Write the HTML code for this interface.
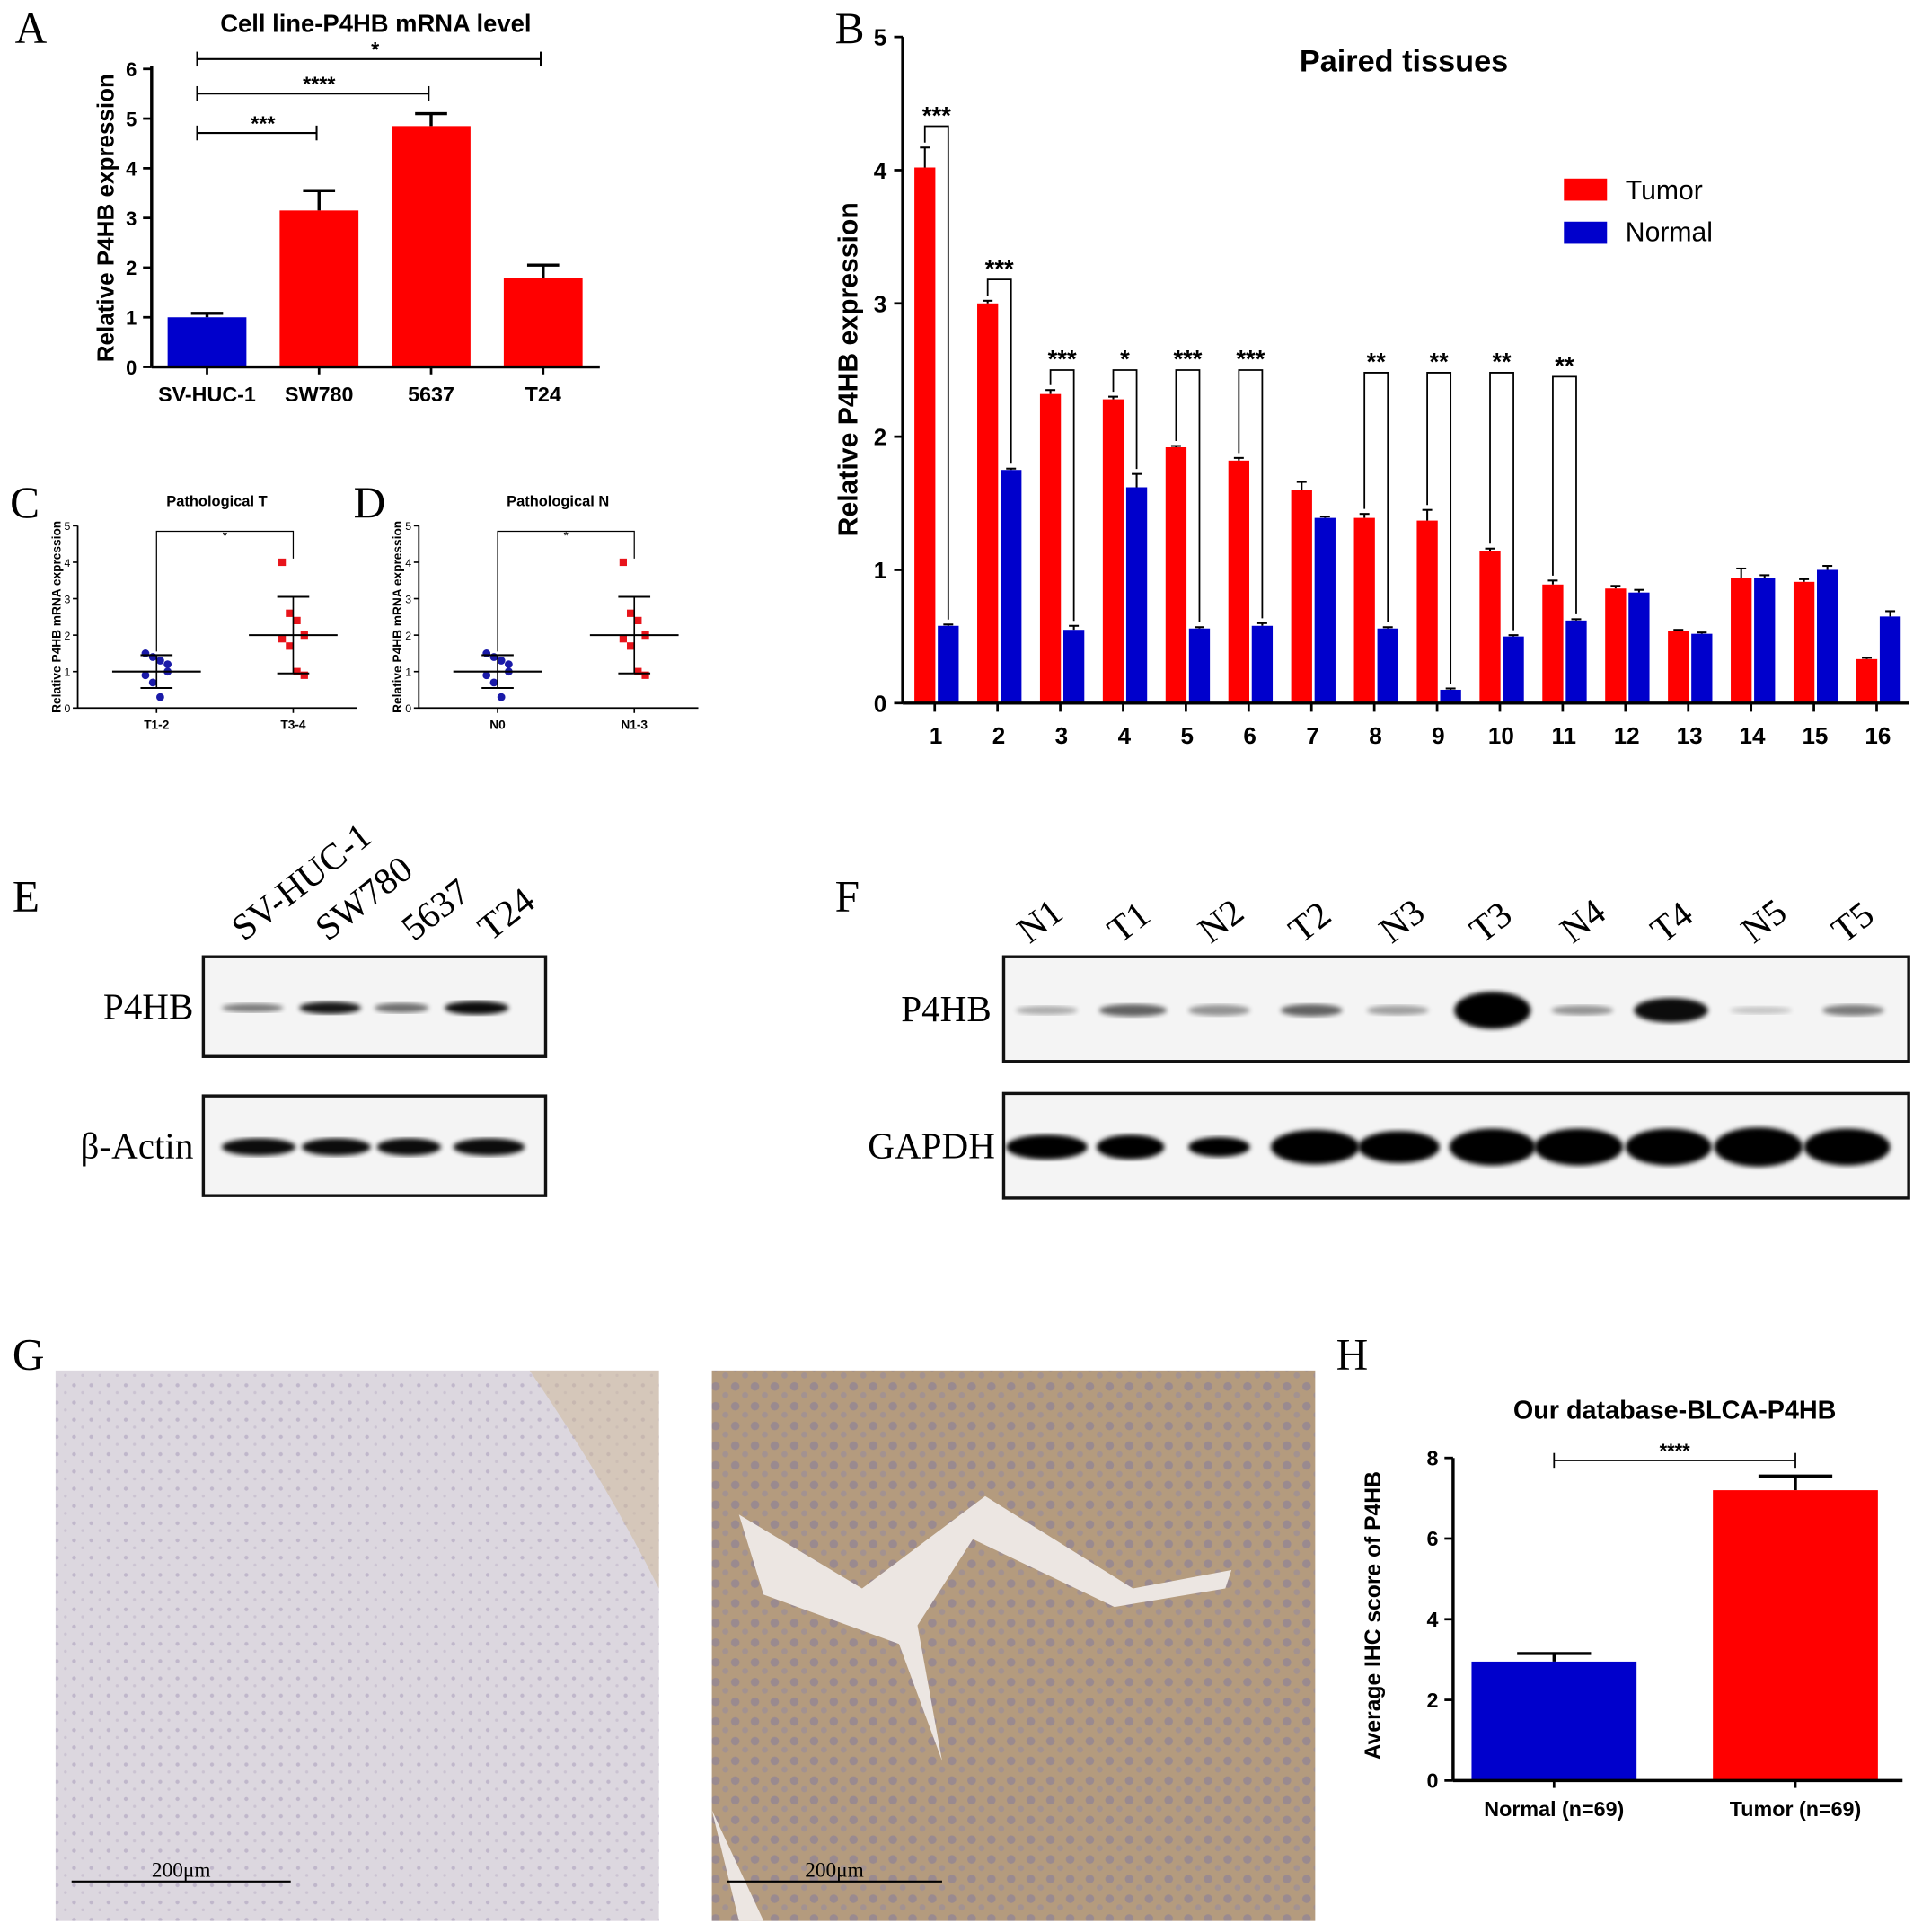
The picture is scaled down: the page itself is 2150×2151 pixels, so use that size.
<!DOCTYPE html>
<html><head><meta charset="utf-8">
<style>
html,body{margin:0;padding:0;background:#fff;}
svg{display:block;}
text{font-family:"Liberation Sans",sans-serif;}
.serif{font-family:"Liberation Serif",serif;}
</style></head>
<body>
<svg id="fig" width="2150" height="2151" viewBox="0 0 1568 1569" xmlns="http://www.w3.org/2000/svg">
<defs>
<pattern id="pl" width="14" height="14" patternUnits="userSpaceOnUse">
<rect width="14" height="14" fill="#dcd7df"/><circle cx="4" cy="5" r="1.6" fill="#c0b7cb"/><circle cx="11" cy="11" r="1.2" fill="#cbc3d2"/></pattern>
<pattern id="pr" width="16" height="16" patternUnits="userSpaceOnUse">
<rect width="16" height="16" fill="#b49b7e"/><circle cx="5" cy="6" r="3.5" fill="#9a8a8f"/><circle cx="13" cy="13" r="2.5" fill="#a39290"/></pattern>
<filter id="blur"><feGaussianBlur stdDeviation="2"/></filter>
</defs>
<g id="root"></g>
</svg>
<script>
// ---------- Panel A data ----------
const aCats = ["SV-HUC-1","SW780","5637","T24"];
const aVals = [1.0, 3.15, 4.85, 1.8];
const aErr = [0.08, 0.4, 0.25, 0.25];
const aTicks = [0,1,2,3,4,5,6];
// ---------- Panel B data ----------
const bCats = ["1","2","3","4","5","6","7","8","9","10","11","12","13","14","15","16"];
const bTumor = [4.02,3.0,2.32,2.28,1.92,1.82,1.6,1.39,1.37,1.14,0.89,0.86,0.54,0.94,0.91,0.33];
const bTumorErr = [0.15,0.02,0.03,0.02,0.01,0.02,0.06,0.03,0.08,0.02,0.03,0.02,0.01,0.07,0.02,0.01];
const bNormal = [0.58,1.75,0.55,1.62,0.56,0.58,1.39,0.56,0.1,0.5,0.62,0.83,0.52,0.94,1.0,0.65];
const bNormalErr = [0.01,0.01,0.03,0.1,0.01,0.02,0.01,0.01,0.01,0.01,0.01,0.02,0.01,0.02,0.03,0.04];
const bSig = ["***","***","***","*","***","***","","**","**","**","**","","","","",""];
const bSigTop = [4.33,3.18,2.5,2.5,2.5,2.5,0,2.48,2.48,2.48,2.45,0,0,0,0,0];
const bTicks = [0,1,2,3,4,5];
// ---------- Panel C/D data ----------
const cCats = ["T1-2","T3-4"];
const dCats = ["N0","N1-3"];
const lowPts = [1.5,1.4,1.3,1.0,0.9,0.7,0.3,1.2];
const highPts = [4.0,2.6,2.4,2.0,1.9,1.7,1.0,0.9];
const cdMean = [1.0, 2.0];
const cdSd = [0.45, 1.05];
const cdTicks = [0,1,2,3,4,5];
// ---------- Panel H data ----------
const hCats = ["Normal (n=69)","Tumor (n=69)"];
const hVals = [2.95, 7.2];
const hErr = [0.2, 0.35];
const hTicks = [0,2,4,6,8];

const NS="http://www.w3.org/2000/svg";
const root=document.getElementById('root');
function el(tag,attrs,parent,txt){const e=document.createElementNS(NS,tag);for(const k in attrs)e.setAttribute(k,attrs[k]);if(txt!==undefined)e.textContent=txt;(parent||root).appendChild(e);return e;}
function line(x1,y1,x2,y2,p,w){return el('line',{x1,y1,x2,y2,stroke:'#000','stroke-width':w||2},p);}

[["A",12,35],["B",678,35],["C",8,420],["D",287,420],["E",10,740],["F",678,740],["G",10,1112],["H",1085,1112]].forEach(([t,x,y])=>{
 const e=el('text',{x,y,'font-size':36,class:'serif'},root,t);
 
 
});

// ===== Panel A =====
(function(){
 const g=el('g',{});
 
 
 const x0=123,x1=487,y0=298,yTop=56,ymax=6;
 const Y=v=>y0-(v/ymax)*(y0-yTop);
 const X=i=>168+i*91;
 el('text',{x:305,y:26,'font-size':20,'font-weight':'bold','text-anchor':'middle'},g,"Cell line-P4HB mRNA level");
 const yl=el('text',{x:0,y:0,'font-size':19,'font-weight':'bold','text-anchor':'middle',transform:`translate(92,177) rotate(-90)`},g,"Relative P4HB expression");
 
 aVals.forEach((v,i)=>{
  const c=X(i);
  line(c,Y(v),c,Y(v+aErr[i]),g,2.5);line(c-13,Y(v+aErr[i]),c+13,Y(v+aErr[i]),g,2.5);
  const r=el('rect',{x:c-32,y:Y(v),width:64,height:y0-Y(v),fill:i==0?'#0000cc':'#ff0000'},g);
  
  el('text',{x:c,y:326,'font-size':17,'font-weight':'bold','text-anchor':'middle'},g,aCats[i]);
  line(c,y0,c,y0+6,g);
 });
 line(x0,yTop-2,x0,y0,g,2.5);line(x0,y0,x1,y0,g,2.5);
 aTicks.forEach(t=>{line(x0-7,Y(t),x0,Y(t),g);el('text',{x:x0-12,y:Y(t)+6,'font-size':16,'font-weight':'bold','text-anchor':'end'},g,t);});
 [[1,"***",108],[2,"****",76],[3,"*",48]].forEach(([j,s,y])=>{
  line(X(0)-8,y,X(j)-2,y,g,1.5);line(X(0)-8,y-6,X(0)-8,y+6,g,1.5);line(X(j)-2,y-6,X(j)-2,y+6,g,1.5);
  el('text',{x:(X(0)+X(j))/2,y:y-2,'font-size':17,'font-weight':'bold','text-anchor':'middle'},g,s);
 });
})();

// ===== Panel B =====
(function(){
 const g=el('g',{});
 
 
 const x0=733,x1=1550,y0=571,yTop=30,ymax=5;
 const Y=v=>y0-(v/ymax)*(y0-yTop);
 const X=i=>759+i*51;
 el('text',{x:1140,y:58,'font-size':25,'font-weight':'bold','text-anchor':'middle'},g,"Paired tissues");
 const yl=el('text',{x:0,y:0,'font-size':22,'font-weight':'bold','text-anchor':'middle',transform:`translate(696,300) rotate(-90)`},g,"Relative P4HB expression");
 
 bCats.forEach((c,i)=>{
  const cx=X(i);
  const rx=cx-8,bx=cx+11;
  [[bTumor[i],bTumorErr[i],rx,'#ff0000','tumor'],[bNormal[i],bNormalErr[i],bx,'#0000cc','normal']].forEach(([v,e,x,col,n])=>{
   line(x,Y(v),x,Y(v+e),g,1.5);line(x-4,Y(v+e),x+4,Y(v+e),g,1.5);
   const r=el('rect',{x:x-8.5,y:Y(v),width:17,height:y0-Y(v),fill:col},g);
   
  });
  line(cx,y0,cx,y0+7,g);
  el('text',{x:cx+1,y:604,'font-size':19,'font-weight':'bold','text-anchor':'middle'},g,c);
  if(bSig[i]){
   const yt=Y(bSigTop[i]);
   el('path',{d:`M${rx},${Y(bTumor[i]+bTumorErr[i])-4}V${yt}H${bx}V${Y(bNormal[i]+bNormalErr[i])-4}`,fill:'none',stroke:'#000','stroke-width':1.3},g);
   el('text',{x:(rx+bx)/2,y:yt-2,'font-size':20,'font-weight':'bold','text-anchor':'middle'},g,bSig[i]);
  }
 });
 line(x0,yTop,x0,y0,g,2.5);line(x0,y0,x1,y0,g,2.5);
 bTicks.forEach(t=>{line(x0-7,Y(t),x0,Y(t),g);el('text',{x:x0-13,y:Y(t)+7,'font-size':19,'font-weight':'bold','text-anchor':'end'},g,t);});
 const lg=el('g',{},g);
 el('rect',{x:1270,y:145,width:35,height:18,fill:'#ff0000'},lg);
 el('text',{x:1320,y:162,'font-size':22},lg,"Tumor");
 el('rect',{x:1270,y:180,width:35,height:18,fill:'#0000cc'},lg);
 el('text',{x:1320,y:196,'font-size':22},lg,"Normal");
})();

// ===== Panels C & D =====
function scatter(x0,cats,title,name){
 const g=el('g',{});
 
 
 const x1=x0+227,y0=575,yTop=427,ymax=5;
 const Y=v=>y0-(v/ymax)*(y0-yTop);
 const X=i=>x0+64+i*111;
 el('text',{x:x0+113,y:411,'font-size':12,'font-weight':'bold','text-anchor':'middle'},g,title);
 el('text',{x:0,y:0,'font-size':10,'font-weight':'bold','text-anchor':'middle',transform:`translate(${x0-14},501) rotate(-90)`},g,"Relative P4HB mRNA expression");
 line(x0,yTop,x0,y0,g,1.3);line(x0,y0,x1,y0,g,1.3);
 cdTicks.forEach(t=>{line(x0-4,Y(t),x0,Y(t),g,1.2);el('text',{x:x0-6,y:Y(t)+3.5,'font-size':9,'text-anchor':'end'},g,t);});
 [lowPts,highPts].forEach((pts,i)=>{
  const c=X(i);
  pts.forEach((v,k)=>{
   const dx=((k%4)-1.5)*6;
   if(i==0){const p=el('circle',{cx:c+dx,cy:Y(v),r:3.2,fill:'#1a1aa8'},g);}
   else{const p=el('rect',{x:c+dx-3,y:Y(v)-3,width:6,height:6,fill:'#e8141b'},g);}
  });
  line(c-36,Y(cdMean[i]),c+36,Y(cdMean[i]),g,1.5);
  line(c,Y(cdMean[i]-cdSd[i]),c,Y(cdMean[i]+cdSd[i]),g,1.2);
  line(c-13,Y(cdMean[i]+cdSd[i]),c+13,Y(cdMean[i]+cdSd[i]),g,1.5);
  line(c-13,Y(cdMean[i]-cdSd[i]),c+13,Y(cdMean[i]-cdSd[i]),g,1.5);
  line(c,y0,c,y0+4,g,1.2);
  el('text',{x:c,y:592,'font-size':10,'font-weight':'bold','text-anchor':'middle'},g,cats[i]);
 });
 el('path',{d:`M${X(0)},${Y(cdMean[0]+cdSd[0])-3}V${Y(4.85)}H${X(1)}V${Y(4.1)}`,fill:'none',stroke:'#000','stroke-width':0.9},g);
 el('text',{x:(X(0)+X(1))/2,y:Y(4.85)+7,'font-size':10,'text-anchor':'middle'},g,"*");
}
scatter(63,cCats,"Pathological T","panel-c-scatter");
scatter(340,dCats,"Pathological N","panel-d-scatter");

// ===== Western blots =====
function blot(x,y,w,h,bands,name,label,lx,fs){
 const g=el('g',{});
 
 
 el('rect',{x,y,width:w,height:h,fill:'#f4f4f4',stroke:'#111','stroke-width':2.5},g);
 bands.forEach(([cx,bw,bh,op])=>{el('ellipse',{cx,cy:y+h/2+1,rx:bw/2,ry:bh/2,fill:'#000',opacity:op,filter:'url(#blur)'},g);});
 el('text',{x:lx,y:y+h/2+10,'font-size':fs,'text-anchor':'end',class:'serif'},g,label);
}
const eLanes=["SV-HUC-1","SW780","5637","T24"];
const eX=[198,266,336,398];
eLanes.forEach((t,i)=>{const e=el('text',{x:0,y:0,'font-size':30,class:'serif',transform:`translate(${eX[i]},${765}) rotate(-38)`},root,t);});
blot(165,777,278,81,[[205,50,7,0.5],[268,50,10,0.9],[326,44,8,0.55],[387,52,11,0.95]],"blot-e-p4hb","P4HB",157,30);
blot(165,890,278,81,[[210,60,14,0.95],[273,56,14,0.95],[332,52,14,0.95],[397,58,14,0.95]],"blot-e-actin","β-Actin",157,30);
const fLanes=["N1","T1","N2","T2","N3","T3","N4","T4","N5","T5"];
fLanes.forEach((t,i)=>{const cx=852+i*73.5;const e=el('text',{x:0,y:0,'font-size':30,class:'serif',transform:`translate(${cx-16},${767}) rotate(-38)`},root,t);});
blot(815,777,735,85,[[850,50,7,0.3],[920,55,10,0.6],[990,50,9,0.4],[1065,50,10,0.6],[1135,50,8,0.35],[1212,62,30,1],[1285,50,8,0.4],[1357,60,20,0.95],[1430,50,6,0.2],[1505,50,9,0.5]],"blot-f-p4hb","P4HB",805,30);
blot(815,888,735,85,[[850,66,20,1],[918,55,20,1],[990,50,16,1],[1068,72,28,1],[1136,66,26,1],[1212,70,30,1],[1282,72,30,1],[1355,70,30,1],[1428,72,32,1],[1500,70,30,1]],"blot-f-gapdh","GAPDH",808,30);

// ===== Panel G images =====
(function(){
 const g=el('g',{});
 const a=el('rect',{x:45,y:1113,width:490,height:447,fill:'url(#pl)'},g);
 el('path',{d:'M430,1113 Q490,1200 535,1290 L535,1113Z',fill:'#cdb896',opacity:0.5},g);
 const b=el('rect',{x:578,y:1113,width:490,height:447,fill:'url(#pr)'},g);
 el('path',{d:'M600,1230 L700,1290 L800,1215 L920,1290 L1000,1275 L995,1290 L905,1305 L790,1250 L745,1320 L765,1430 L730,1335 L620,1295Z',fill:'#ece6e2'},g);
 el('path',{d:'M578,1470 L620,1560 L600,1560Z',fill:'#ece6e2'},g);
 [[58,236],[590,765]].forEach(([s,e])=>{line(s,1528,e,1528,g,1.5);el('text',{x:(s+e)/2,y:1524,'font-size':17,'text-anchor':'middle',class:'serif'},g,"200μm");});
})();

// ===== Panel H =====
(function(){
 const g=el('g',{});
 
 
 const x0=1180,x1=1545,y0=1446,yTop=1184,ymax=8;
 const Y=v=>y0-(v/ymax)*(y0-yTop);
 const X=i=>1262+i*196;
 el('text',{x:1360,y:1152,'font-size':21,'font-weight':'bold','text-anchor':'middle'},g,"Our database-BLCA-P4HB");
 const yl=el('text',{x:0,y:0,'font-size':18,'font-weight':'bold','text-anchor':'middle',transform:`translate(1121,1312) rotate(-90)`},g,"Average IHC score of P4HB");
 
 hVals.forEach((v,i)=>{
  const c=X(i);
  line(c,Y(v),c,Y(v+hErr[i]),g,2.5);line(c-30,Y(v+hErr[i]),c+30,Y(v+hErr[i]),g,2.5);
  const r=el('rect',{x:c-67,y:Y(v),width:134,height:y0-Y(v),fill:i==0?'#0000cc':'#ff0000'},g);
  
  line(c,y0,c,y0+6,g);
  el('text',{x:c,y:1475,'font-size':17,'font-weight':'bold','text-anchor':'middle'},g,hCats[i]);
 });
 line(x0,yTop,x0,y0,g,2.5);line(x0,y0,x1,y0,g,2.5);
 hTicks.forEach(t=>{line(x0-7,Y(t),x0,Y(t),g);el('text',{x:x0-12,y:Y(t)+6,'font-size':17,'font-weight':'bold','text-anchor':'end'},g,t);});
 line(X(0),1186,X(1),1186,g,1.3);line(X(0),1180,X(0),1192,g,1.3);line(X(1),1180,X(1),1192,g,1.3);
 el('text',{x:(X(0)+X(1))/2,y:1184,'font-size':16,'font-weight':'bold','text-anchor':'middle'},g,"****");
})();
</script>
</body></html>
